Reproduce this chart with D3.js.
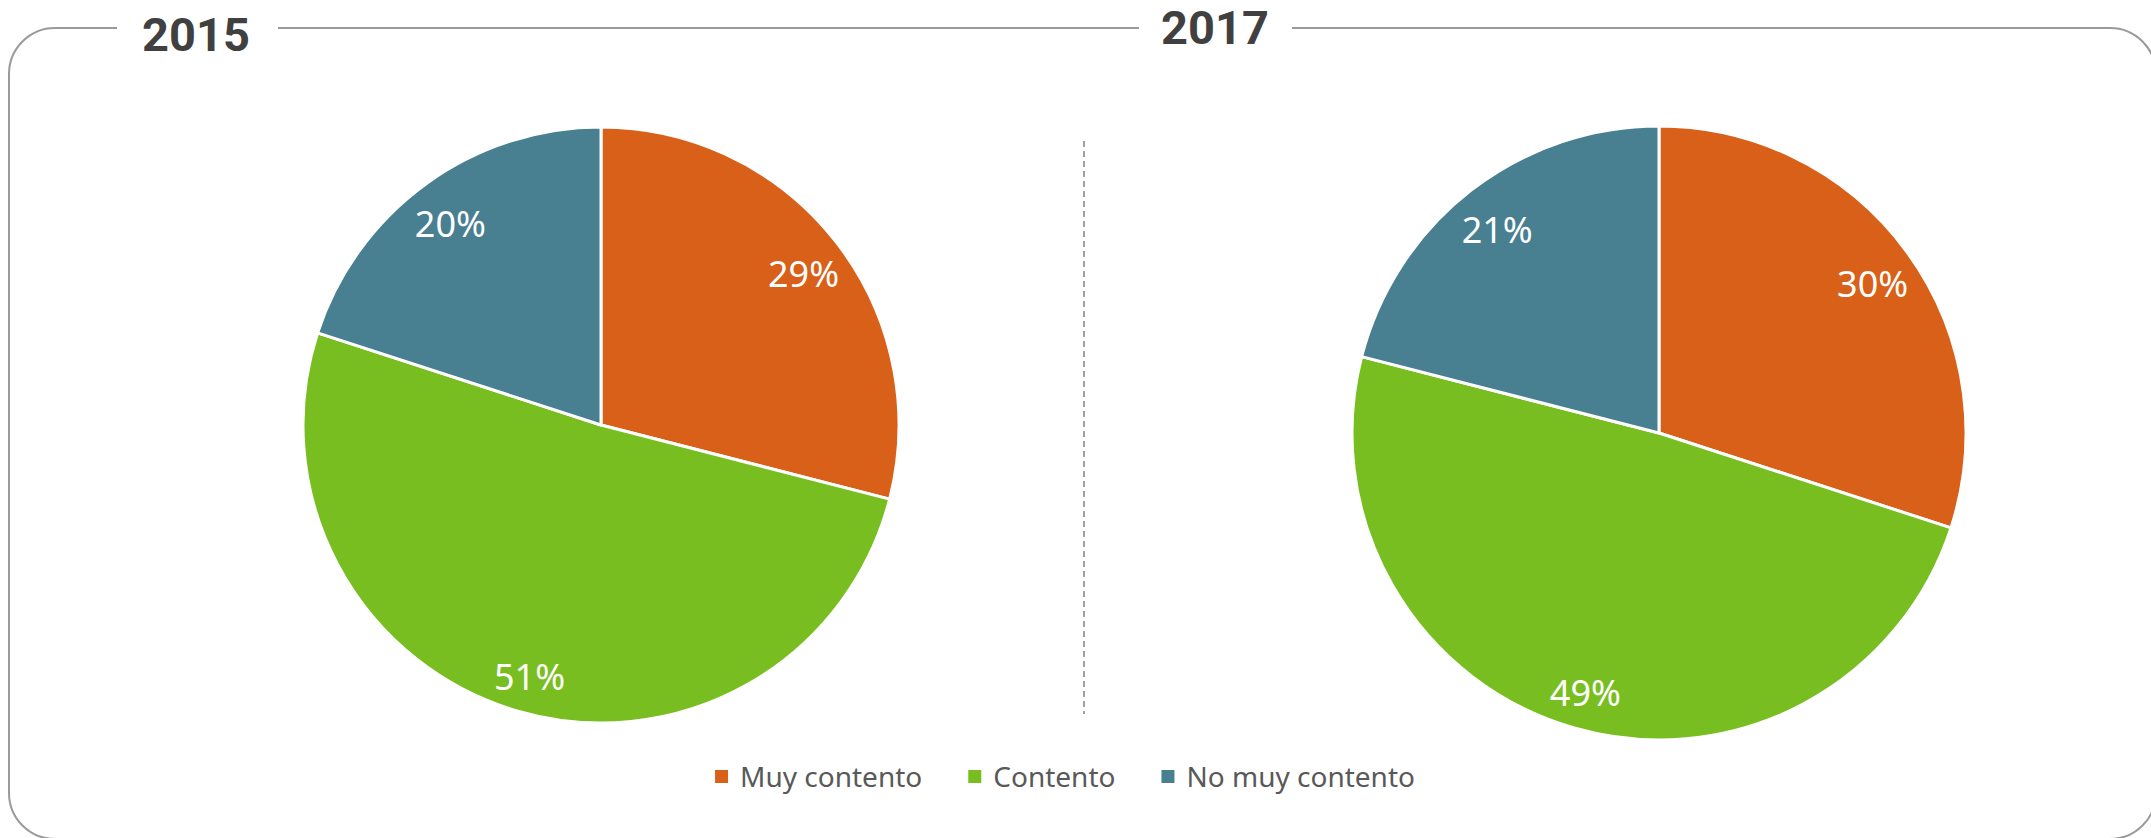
<!DOCTYPE html>
<html>
<head>
<meta charset="utf-8">
<script src="https://cdn.jsdelivr.net/npm/d3@7"></script>
<style>
  html, body { margin: 0; padding: 0; background: #fff; overflow: hidden; }
  svg { display: block; }
</style>
</head>
<body>
<script>
// data
var categories = ['Muy contento', 'Contento', 'No muy contento'];
var years = ['2015', '2017'];
var values2015 = [29, 51, 20];
var values2017 = [30, 49, 21];
var colors = ['#D86018', '#78BE20', '#487F91'];

var width = 2151, height = 838;

var svg = d3.select('body').append('svg')
  .attr('width', width)
  .attr('height', height);

// rounded frame, runs off the right and bottom edges
svg.append('rect')
  .attr('x', 9).attr('y', 28)
  .attr('width', 2147).attr('height', 811)
  .attr('rx', 46).attr('ry', 46)
  .attr('fill', 'none')
  .attr('stroke', '#9a9a9a')
  .attr('stroke-width', 2);

// gaps in the top line for the titles
var titles = [
  { text: years[0], x: 196, y: 51, gap: [117, 278] },
  { text: years[1], x: 1215, y: 44, gap: [1139, 1292] }
];

svg.selectAll('rect.gap')
  .data(titles)
  .enter()
  .append('rect')
  .attr('class', 'gap')
  .attr('x', function (d) { return d.gap[0]; })
  .attr('y', 20)
  .attr('width', function (d) { return d.gap[1] - d.gap[0]; })
  .attr('height', 16)
  .attr('fill', '#fff');

svg.selectAll('text.title')
  .data(titles)
  .enter()
  .append('text')
  .attr('class', 'title')
  .attr('x', function (d) { return d.x; })
  .attr('y', function (d) { return d.y; })
  .attr('text-anchor', 'middle')
  .attr('font-family', 'Roboto, sans-serif')
  .attr('font-weight', 'bold')
  .attr('font-size', 47)
  .attr('fill', '#404040')
  .text(function (d) { return d.text; });

// dashed divider
svg.append('line')
  .attr('x1', 1084).attr('x2', 1084)
  .attr('y1', 141).attr('y2', 714)
  .attr('stroke', '#a0a0a0')
  .attr('stroke-width', 2)
  .attr('stroke-dasharray', '6,4');

var pie = d3.pie().sort(null).value(function (d) { return d; });

function drawPie(values, cx, cy, r) {
  var arc = d3.arc().innerRadius(0).outerRadius(r);
  var labelArc = d3.arc().innerRadius(r * 0.86).outerRadius(r * 0.86);

  var g = svg.append('g').attr('transform', 'translate(' + cx + ',' + cy + ')');

  g.selectAll('path')
    .data(pie(values))
    .enter()
    .append('path')
    .attr('d', arc)
    .attr('fill', function (d, i) { return colors[i]; })
    .attr('stroke', '#fff')
    .attr('stroke-width', 3)
    .attr('stroke-linejoin', 'round');

  g.selectAll('text')
    .data(pie(values))
    .enter()
    .append('text')
    .attr('transform', function (d) {
      var c = labelArc.centroid(d);
      return 'translate(' + c[0] + ',' + (c[1] + 6) + ')';
    })
    .attr('text-anchor', 'middle')
    .attr('dy', '0.36em')
    .attr('font-family', '"Noto Sans", sans-serif')
    .attr('font-size', 36)
    .attr('fill', '#fff')
    .text(function (d) { return d.data + '%'; });
}

drawPie(values2015, 601, 425, 298);
drawPie(values2017, 1659, 433, 307);

// legend
var legend = svg.append('g');
var items = legend.selectAll('g')
  .data(categories)
  .enter()
  .append('g');

items.append('rect')
  .attr('width', 13).attr('height', 13)
  .attr('y', 770)
  .attr('fill', function (d, i) { return colors[i]; });

items.append('text')
  .attr('x', 25)
  .attr('y', 787)
  .attr('font-family', '"Noto Sans", sans-serif')
  .attr('font-size', 28)
  .attr('fill', '#595959')
  .text(function (d) { return d; });

var xs = [], cur = 0;
items.each(function () {
  xs.push(cur);
  cur += 25 + d3.select(this).select('text').node().getComputedTextLength() + 46;
});
var total = cur - 46;
var start = 1065 - total / 2;
items.attr('transform', function (d, i) { return 'translate(' + (start + xs[i]) + ',0)'; });
</script>
</body>
</html>
